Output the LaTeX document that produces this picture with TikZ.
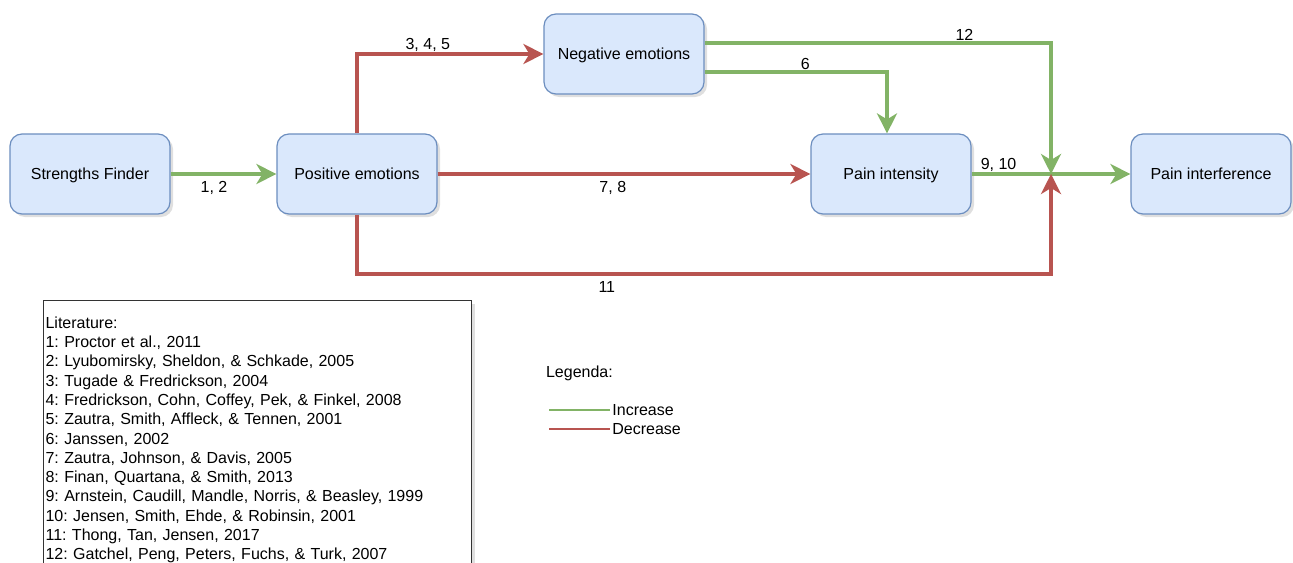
\documentclass[tikz,border=0pt]{standalone}
\usepackage{fontspec}
\setmainfont{Liberation Sans}
\usetikzlibrary{arrows.meta,shadows,calc}
\frenchspacing

\definecolor{boxfill}{HTML}{DAE8FC}
\definecolor{boxline}{HTML}{6C8EBF}
\definecolor{incgreen}{HTML}{82B366}
\definecolor{decred}{HTML}{B85450}

\begin{document}
\begin{tikzpicture}[x=0.5pt,y=-0.5pt,
   every node/.style={font=\fontsize{8}{9.65}\selectfont},
   factor/.style={draw=boxline,fill=boxfill,line width=0.6pt,rounded corners=6pt,
      minimum width=80pt,minimum height=40pt,text depth=0.5pt,
      drop shadow={shadow xshift=1.5pt,shadow yshift=-1.5pt,opacity=0.25}},
   litbox/.style={draw=black!80,fill=white,line width=0.6pt,align=left,
      text width=212pt,inner xsep=1pt,inner ysep=8pt,
      drop shadow={shadow xshift=1.5pt,shadow yshift=-1.5pt,opacity=0.25}},
   lblabove/.style={above,inner sep=1pt,yshift=-0.5pt},
   lblbelow/.style={below,inner sep=3pt},
   increase/.style={draw=incgreen,line width=1.8pt,-{Stealth[length=10pt,width=10pt,inset=3pt]}},
   decrease/.style={draw=decred,line width=1.8pt,-{Stealth[length=10pt,width=10pt,inset=3pt]}}]
\useasboundingbox (0,0) rectangle (1293,562);

% factors
\node[factor] (sf) at (90,174) {Strengths Finder};
\node[factor] (pe) at (357,174) {Positive emotions};
\node[factor] (ne) at (624,54) {Negative emotions};
\node[factor] (pi) at (891,174) {Pain intensity};
\node[factor] (pf) at (1211,174) {Pain interference};
\coordinate (junc) at (1051,174);
\coordinate (low) at (1051,274);

% effects
\draw[increase] (sf) -- node[lblbelow,pos=0.41] {1, 2} (pe);
\draw[decrease] (pe.north) |- node[lblabove,pos=0.69] {3, 4, 5} (ne.west);
\draw[increase] ($(ne.east)+(0,-11)$) -| node[lblabove,pos=0.375] {12} (junc);
\draw[increase] ($(ne.east)+(0,18)$) -| node[lblabove,pos=0.276] {6} ($(pi.north)+(-4,0)$);
\draw[decrease] (pe) -- node[lblbelow,pos=0.47] {7, 8} (pi);
\draw[increase] (pi) -- node[lblabove,pos=0.17] {9, 10} (pf);
\draw[decrease] (pe.south) |- node[lblbelow,pos=0.68] {11} (low) -- (junc);

% literature
\node[litbox,anchor=north west] (lit) at (43,300) {Literature:\\
1: Proctor et al., 2011\\
2: Lyubomirsky, Sheldon, \& Schkade, 2005\\
3: Tugade \& Fredrickson, 2004\\
4: Fredrickson, Cohn, Coffey, Pek, \& Finkel, 2008\\
5: Zautra, Smith, Affleck, \& Tennen, 2001\\
6: Janssen, 2002\\
7: Zautra, Johnson, \& Davis, 2005\\
8: Finan, Quartana, \& Smith, 2013\\
9: Arnstein, Caudill, Mandle, Norris, \& Beasley, 1999\\
10: Jensen, Smith, Ehde, \& Robinsin, 2001\\
11: Thong, Tan, Jensen, 2017\\
12: Gatchel, Peng, Peters, Fuchs, \& Turk, 2007};

% legend
\node[anchor=west] (legend) at (539,373) {Legenda:};
\node[anchor=west,inner xsep=1pt] (inc) at (610,410) {Increase};
\node[anchor=west,inner xsep=1pt] (dec) at (610,429) {Decrease};
\coordinate (incstart) at (549,410);
\coordinate (decstart) at (549,429);
\draw[incgreen,line width=0.7pt] (incstart) -- (inc.west);
\draw[decred,line width=0.7pt] (decstart) -- (dec.west);
\end{tikzpicture}
\end{document}
